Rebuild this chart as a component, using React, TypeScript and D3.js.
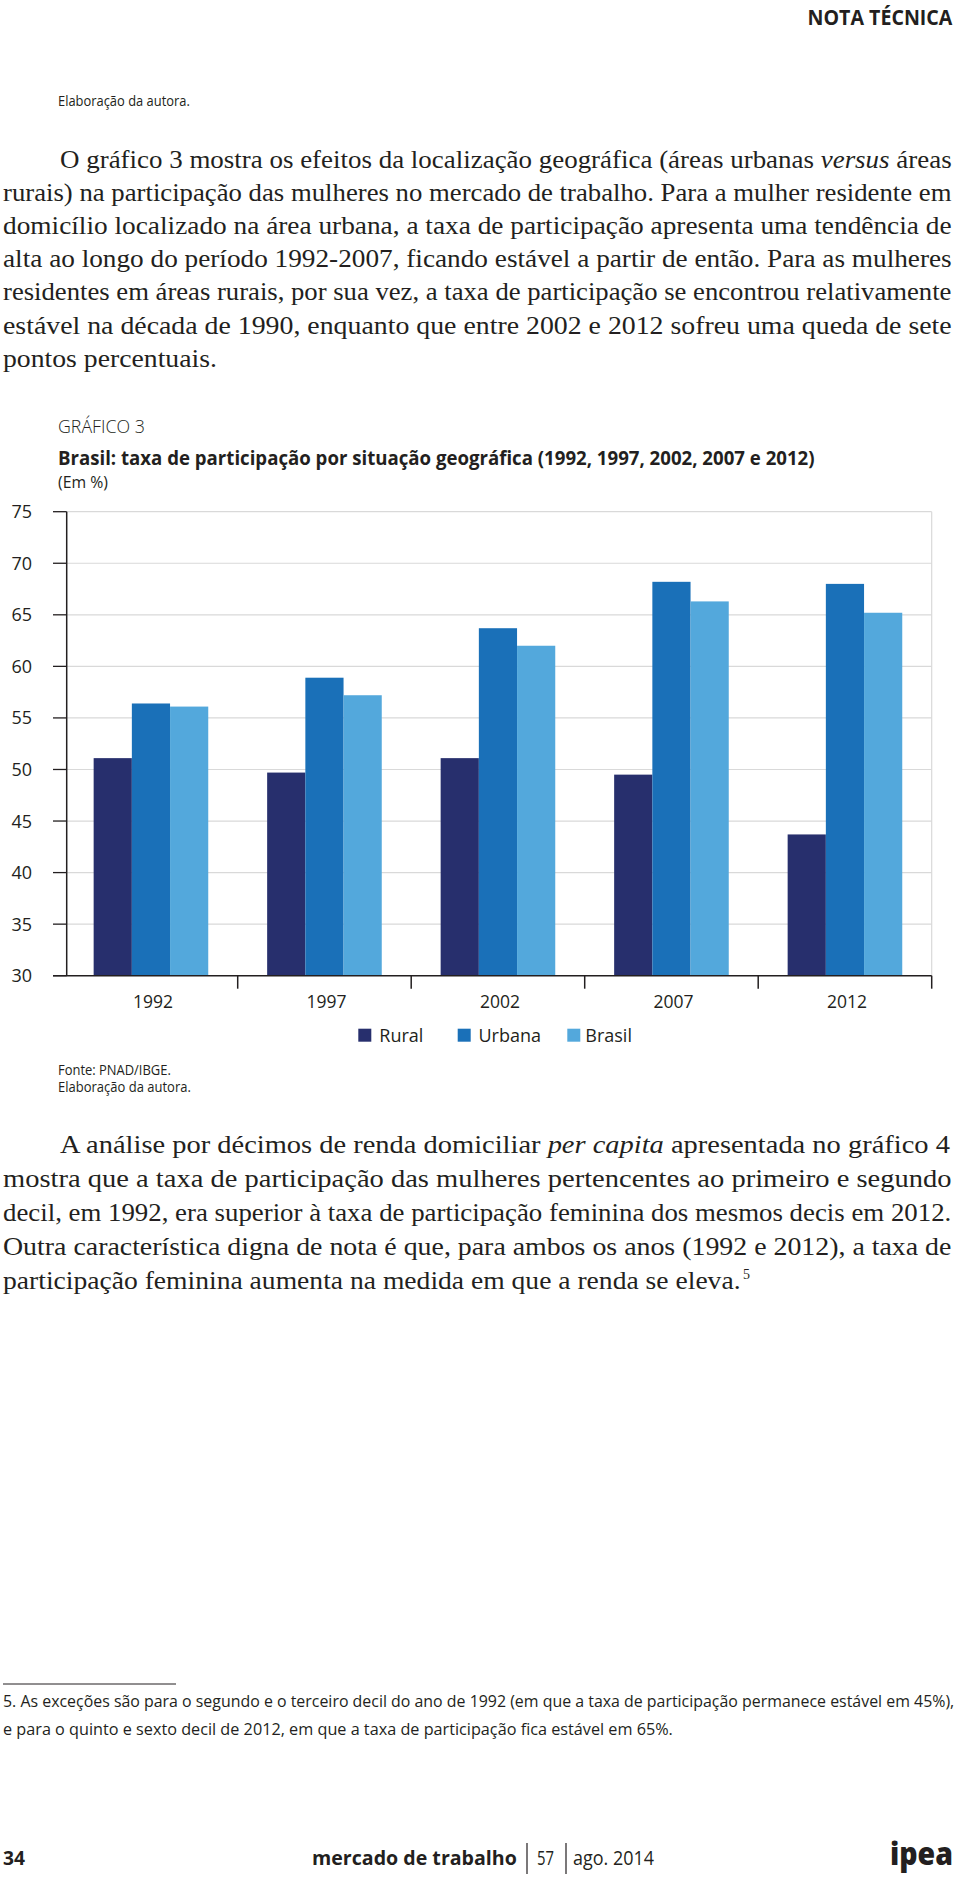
import React from "react";
import * as d3 from "d3";

const years = ["1992", "1997", "2002", "2007", "2012"];
const series = ["Rural", "Urbana", "Brasil"];
const rural = [51.1, 49.7, 51.1, 49.5, 43.7];
const urbana = [56.4, 58.9, 63.7, 68.2, 68.0];
const brasil = [56.1, 57.2, 62.0, 66.3, 65.2];
const yTicks = [30, 35, 40, 45, 50, 55, 60, 65, 70, 75];
const colors = ["#272f6d", "#1a70b8", "#53a8dc"];

const para1 = [
  { t: [["O gráfico 3 mostra os efeitos da localização geográfica (áreas urbanas ", false], ["versus", true], [" áreas", false]], indent: true },
  { t: [["rurais) na participação das mulheres no mercado de trabalho. Para a mulher residente em", false]] },
  { t: [["domicílio localizado na área urbana, a taxa de participação apresenta uma tendência de", false]] },
  { t: [["alta ao longo do período 1992-2007, ficando estável a partir de então. Para as mulheres", false]] },
  { t: [["residentes em áreas rurais, por sua vez, a taxa de participação se encontrou relativamente", false]] },
  { t: [["estável na década de 1990, enquanto que entre 2002 e 2012 sofreu uma queda de sete", false]] },
  { t: [["pontos percentuais.", false]], end: 217 },
];
const para2 = [
  { t: [["A análise por décimos de renda domiciliar ", false], ["per capita", true], [" apresentada no gráfico 4", false]], indent: true },
  { t: [["mostra que a taxa de participação das mulheres pertencentes ao primeiro e segundo", false]] },
  { t: [["decil, em 1992, era superior à taxa de participação feminina dos mesmos decis em 2012.", false]] },
  { t: [["Outra característica digna de nota é que, para ambos os anos (1992 e 2012), a taxa de", false]] },
  { t: [["participação feminina aumenta na medida em que a renda se eleva.", false]], end: 741, sup: "5" },
];
const footnote1 = "5. As exceções são para o segundo e o terceiro decil do ano de 1992 (em que a taxa de participação permanece estável em 45%),";
const footnote2 = "e para o quinto e sexto decil de 2012, em que a taxa de participação fica estável em 65%.";

const SERIF = "'Liberation Serif', 'DejaVu Serif', serif";
const SANS = "'Open Sans', 'Noto Sans', sans-serif";

let _ctx: CanvasRenderingContext2D | null = null;
function measure(text: string, font: string): number {
  if (typeof document === "undefined") return text.length * 8;
  if (!_ctx) _ctx = document.createElement("canvas").getContext("2d");
  if (!_ctx) return text.length * 8;
  _ctx.font = font;
  return _ctx.measureText(text).width;
}

function FitText({ x, y, width, size, weight = 400, family = SANS, children, fill = "#231f20" }: any) {
  const natural = measure(children, `${weight} ${size}px ${family}`);
  const sx = natural > 0 ? width / natural : 1;
  return (
    <text transform={`translate(${x},${y}) scale(${sx},1)`} fontFamily={family} fontWeight={weight} fontSize={size} fill={fill}>
      {children}
    </text>
  );
}

function Para({ lines, y0, step }: any) {
  const left = 3, right = 952, indentX = 60;
  const size = 26;
  return (
    <g fontFamily={SERIF} fontSize={size} fill="#231f20">
      {lines.map((ln: any, i: number) => {
        const x = ln.indent ? indentX : left;
        const end = ln.end ?? right;
        const natural = ln.t.reduce(
          (acc: number, s: any) => acc + measure(s[0], `${s[1] ? "italic " : ""}400 ${size}px ${SERIF}`),
          0
        );
        const sx = natural > 0 ? (end - x) / natural : 1;
        const yy = y0 + i * step;
        return (
          <g key={i}>
            <text transform={`translate(${x},${yy}) scale(${sx},1)`}>
              {ln.t.map((s: any, j: number) => (
                <tspan key={j} fontStyle={s[1] ? "italic" : "normal"}>{s[0]}</tspan>
              ))}
            </text>
            {ln.sup ? <text x={end + 2} y={yy - 10} fontSize={14}>{ln.sup}</text> : null}
          </g>
        );
      })}
    </g>
  );
}

export default function App() {
  const x0 = 64.2, x1 = 931.7;
  const x = d3.scaleBand().domain(years).range([x0, x1]).paddingInner(0).paddingOuter(0);
  const groupW = 114.6;
  const xs = d3.scaleBand().domain(series).range([0, groupW]);
  const y = d3.scaleLinear().domain([30, 75]).range([975.7, 511.7]);
  const data = [rural, urbana, brasil];
  const axisX = 66.7;
  const bottom = y(30);

  return (
    <svg width={960} height={1879} style={{ position: "absolute", left: 0, top: 0, background: "#fff" }}>
      <rect width={960} height={1879} fill="#fff" />
      <FitText x={807.5} y={25} width={145} size={21} weight={700}>NOTA TÉCNICA</FitText>
      <FitText x={58} y={106} width={132} size={14}>Elaboração da autora.</FitText>

      <Para lines={para1} y0={167.5} step={33.2} />

      {/* chart titles */}
      <FitText x={58} y={433} width={87} size={19} weight={300}>GRÁFICO 3</FitText>
      <FitText x={58} y={465} width={757} size={19.5} weight={700}>Brasil: taxa de participação por situação geográfica (1992, 1997, 2002, 2007 e 2012)</FitText>
      <FitText x={58} y={488} width={50} size={15.5}>(Em %)</FitText>

      {/* grid */}
      {yTicks.filter((t) => t > 30).map((t) => (
        <line key={"g" + t} x1={axisX} x2={x1} y1={y(t)} y2={y(t)} stroke="#d9d9d9" strokeWidth={1.2} />
      ))}
      <line x1={x1} x2={x1} y1={y(75)} y2={bottom} stroke="#d9d9d9" strokeWidth={1.2} />

      {/* bars */}
      {years.map((yr, i) => (
        <g key={yr} transform={`translate(${(x(yr) as number) + (x.bandwidth() - groupW) / 2},0)`}>
          {series.map((s, k) => (
            <rect key={s} x={xs(s)} width={xs.bandwidth()} y={y(data[k][i])} height={bottom - y(data[k][i])} fill={colors[k]} />
          ))}
        </g>
      ))}

      {/* y axis */}
      <line x1={axisX} x2={axisX} y1={y(75)} y2={bottom} stroke="#231f20" strokeWidth={1.5} />
      {yTicks.map((t) => (
        <g key={"t" + t}>
          <line x1={53} x2={axisX} y1={y(t)} y2={y(t)} stroke="#231f20" strokeWidth={1.3} />
          <text x={32} y={y(t)} dy="0.36em" textAnchor="end" fontFamily={SANS} fontSize={18} fill="#231f20">{t}</text>
        </g>
      ))}

      {/* x axis */}
      <line x1={53} x2={x1} y1={bottom} y2={bottom} stroke="#231f20" strokeWidth={1.5} />
      {years.map((yr) => {
        const e = (x(yr) as number) + x.bandwidth();
        return <line key={"xt" + yr} x1={e} x2={e} y1={bottom} y2={bottom + 13} stroke="#231f20" strokeWidth={1.5} />;
      })}
      {years.map((yr) => (
        <text key={"xl" + yr} x={(x(yr) as number) + x.bandwidth() / 2 + 2} y={1007.5} textAnchor="middle" fontFamily={SANS} fontSize={17.5} fill="#231f20">{yr}</text>
      ))}

      {/* legend */}
      {[
        { sx: 358.3, tx: 379.3 },
        { sx: 457.7, tx: 478.5 },
        { sx: 567.3, tx: 585.3 },
      ].map((p, k) => (
        <g key={"lg" + k}>
          <rect x={p.sx} y={1028.7} width={13} height={13} fill={colors[k]} />
          <text x={p.tx} y={1041.5} fontFamily={SANS} fontSize={18} fill="#231f20">{series[k]}</text>
        </g>
      ))}

      <FitText x={58} y={1075} width={113} size={14}>Fonte: PNAD/IBGE.</FitText>
      <FitText x={58} y={1092} width={133} size={14}>Elaboração da autora.</FitText>

      <Para lines={para2} y0={1152.5} step={34} />

      {/* footnote */}
      <line x1={3} x2={176} y1={1684} y2={1684} stroke="#231f20" strokeWidth={1} />
      <FitText x={3} y={1707} width={952} size={16.5}>{footnote1}</FitText>
      <FitText x={3} y={1735} width={670} size={16.5}>{footnote2}</FitText>

      {/* footer */}
      <FitText x={3} y={1865} width={22} size={20} weight={700}>34</FitText>
      <FitText x={312} y={1865} width={205} size={20} weight={700}>mercado de trabalho</FitText>
      <line x1={527} x2={527} y1={1843} y2={1874} stroke="#231f20" strokeWidth={1.2} />
      <FitText x={537} y={1865} width={17} size={20}>57</FitText>
      <line x1={566} x2={566} y1={1843} y2={1874} stroke="#231f20" strokeWidth={1.2} />
      <FitText x={573} y={1865} width={81} size={20}>ago. 2014</FitText>
      <FitText x={890} y={1865} width={63} size={31} weight={800}>ipea</FitText>
    </svg>
  );
}
